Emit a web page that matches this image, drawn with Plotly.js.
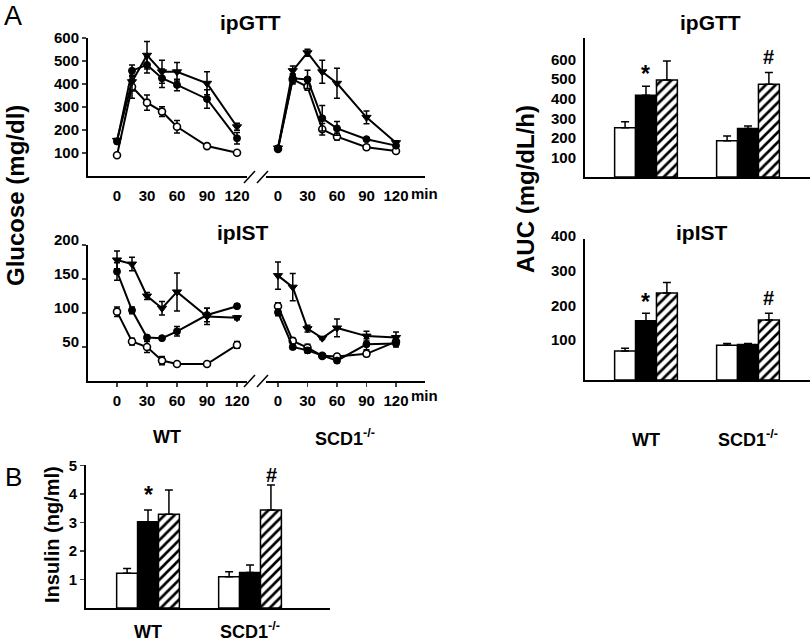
<!DOCTYPE html>
<html>
<head>
<meta charset="utf-8">
<script src="https://cdn.plot.ly/plotly-3.0.1.min.js"></script>
<style>html,body{margin:0;padding:0;background:#fff;}#chart{width:810px;height:643px;}</style>
</head>
<body>
<div id="chart"></div>
<script>
// ---------- DATA ----------
const timeMin = [0, 15, 30, 45, 60, 90, 120];
const timeTicks = [0, 30, 60, 90, 120];

// ipGTT glucose (mg/dl)
const gttWtOpen = [90, 388, 319, 280, 214, 130, 101];
const gttWtOpenErr = [5, 50, 33, 21, 27, 5, 3];
const gttWtCircle = [150, 458, 483, 425, 396, 335, 164];
const gttWtCircleErr = [8, 25, 35, 40, 25, 40, 25];
const gttWtTri = [155, 410, 525, 453, 453, 403, 214];
const gttWtTriErr = [8, 40, 60, 50, 40, 50, 15];

const gttKoOpen = [118, 420, 388, 203, 171, 125, 109];
const gttKoOpenErr = [5, 20, 15, 25, 15, 10, 6];
const gttKoCircle = [120, 425, 420, 251, 207, 160, 132];
const gttKoCircleErr = [5, 20, 40, 55, 30, 6, 6];
const gttKoTri = [122, 458, 536, 453, 403, 255, 145];
const gttKoTriErr = [5, 20, 15, 50, 65, 28, 8];

// ipIST glucose (mg/dl)
const istWtOpen = [102, 58, 50, 30, 25, 25, 53];
const istWtOpenErr = [7, 5, 8, 6, 2, 3, 5];
const istWtCircle = [161, 104, 64, 63, 73, 97, 110];
const istWtCircleErr = [13, 5, 3, 2, 7, 10, 3];
const istWtTri = [178, 172, 125, 107, 131, 95, 93];
const istWtTriErr = [13, 10, 5, 10, 28, 12, 3];

const istKoOpen = [110, 59, 49, 37, 36, 40, 58];
const istKoOpenErr = [5, 4, 5, 3, 3, 4, 5];
const istKoCircle = [101, 50, 45, 37, 30, 54, 55];
const istKoCircleErr = [5, 3, 4, 3, 3, 8, 5];
const istKoTri = [155, 138, 77, 63, 78, 66, 64];
const istKoTriErr = [20, 20, 5, 2, 13, 7, 8];

// groups
const groups = ['WT', 'SCD1<sup>-/-</sup>'];

// AUC ipGTT (mg/dL/h)
const aucGttOpen = [251, 185];   const aucGttOpenErr = [31, 24];
const aucGttBlack = [418, 248];  const aucGttBlackErr = [46, 12];
const aucGttHatch = [495, 474];  const aucGttHatchErr = [97, 60];

// AUC ipIST
const aucIstOpen = [83, 100];    const aucIstOpenErr = [8, 5];
const aucIstBlack = [170, 102];  const aucIstBlackErr = [22, 3];
const aucIstHatch = [250, 172];  const aucIstHatchErr = [30, 20];

// Insulin (ng/ml)
const insOpen = [1.22, 1.10];    const insOpenErr = [0.17, 0.17];
const insBlack = [3.03, 1.25];   const insBlackErr = [0.41, 0.26];
const insHatch = [3.29, 3.44];   const insHatchErr = [0.85, 0.88];

// ---------- HELPERS ----------
const W = 810, H = 643;
const px = x => x / W;
const py = y => 1 - y / H;
const FONT = 'Liberation Sans, Arial, sans-serif';

function lineTrace(x, y, err, kind, xa, ya) {
  let marker;
  if (kind === 'open') marker = {symbol: 'circle', size: 7, color: 'white', line: {color: 'black', width: 1.6}};
  else if (kind === 'circle') marker = {symbol: 'circle', size: 7, color: 'black', line: {color: 'black', width: 1}};
  else marker = {symbol: 'triangle-down', size: 8, color: 'black', line: {color: 'black', width: 1}};
  return {
    type: 'scatter', mode: 'lines+markers', x: x, y: y, xaxis: xa, yaxis: ya,
    line: {color: 'black', width: 2}, marker: marker,
    error_y: {type: 'data', array: err, visible: true, color: 'black', thickness: 1.5, width: 3},
    hoverinfo: 'skip', cliponaxis: false
  };
}

function barTrace(y, err, kind, xa, ya) {
  const t = {
    type: 'bar', x: groups, y: y, xaxis: xa, yaxis: ya,
    marker: {color: kind === 'black' ? 'black' : 'white', line: {color: 'black', width: 1.5}},
    error_y: {type: 'data', symmetric: false, array: err, arrayminus: err.map(() => 0),
              visible: true, color: 'black', thickness: 1.5, width: 4},
    hoverinfo: 'skip'
  };
  if (kind === 'hatch') t.marker.pattern = {shape: '/', fgcolor: 'black', bgcolor: 'white', size: 7, solidity: 0.38};
  return t;
}

const data = [
  lineTrace(timeMin, gttWtOpen, gttWtOpenErr, 'open', 'x', 'y'),
  lineTrace(timeMin, gttWtCircle, gttWtCircleErr, 'circle', 'x', 'y'),
  lineTrace(timeMin, gttWtTri, gttWtTriErr, 'tri', 'x', 'y'),
  lineTrace(timeMin, gttKoOpen, gttKoOpenErr, 'open', 'x2', 'y'),
  lineTrace(timeMin, gttKoCircle, gttKoCircleErr, 'circle', 'x2', 'y'),
  lineTrace(timeMin, gttKoTri, gttKoTriErr, 'tri', 'x2', 'y'),
  lineTrace(timeMin, istWtOpen, istWtOpenErr, 'open', 'x3', 'y2'),
  lineTrace(timeMin, istWtCircle, istWtCircleErr, 'circle', 'x3', 'y2'),
  lineTrace(timeMin, istWtTri, istWtTriErr, 'tri', 'x3', 'y2'),
  lineTrace(timeMin, istKoOpen, istKoOpenErr, 'open', 'x4', 'y2'),
  lineTrace(timeMin, istKoCircle, istKoCircleErr, 'circle', 'x4', 'y2'),
  lineTrace(timeMin, istKoTri, istKoTriErr, 'tri', 'x4', 'y2'),
  barTrace(aucGttOpen, aucGttOpenErr, 'open', 'x5', 'y3'),
  barTrace(aucGttBlack, aucGttBlackErr, 'black', 'x5', 'y3'),
  barTrace(aucGttHatch, aucGttHatchErr, 'hatch', 'x5', 'y3'),
  barTrace(aucIstOpen, aucIstOpenErr, 'open', 'x6', 'y4'),
  barTrace(aucIstBlack, aucIstBlackErr, 'black', 'x6', 'y4'),
  barTrace(aucIstHatch, aucIstHatchErr, 'hatch', 'x6', 'y4'),
  barTrace(insOpen, insOpenErr, 'open', 'x7', 'y5'),
  barTrace(insBlack, insBlackErr, 'black', 'x7', 'y5'),
  barTrace(insHatch, insHatchErr, 'hatch', 'x7', 'y5')
];

const tickF = {family: FONT, size: 15, color: 'black', weight: 'bold'};
const base = {showline: true, linecolor: 'black', linewidth: 2, showgrid: false, zeroline: false,
              tickfont: tickF, fixedrange: true};

const layout = {
  width: W, height: H,
  margin: {l: 0, r: 0, t: 0, b: 0},
  paper_bgcolor: 'white', plot_bgcolor: 'white',
  showlegend: false, barmode: 'group', bargap: 0.385, bargroupgap: 0,
  font: {family: FONT, color: 'black'},
  xaxis:  Object.assign({}, base, {domain: [px(88), px(247)], range: [-29, 130], anchor: 'y',
            tickvals: timeTicks, ticks: '', ticklabelstandoff: 5}),
  xaxis2: Object.assign({}, base, {domain: [px(266), px(425)], range: [-12.2, 149.5], anchor: 'y',
            tickvals: timeTicks, ticks: '', ticklabelstandoff: 5}),
  yaxis:  Object.assign({}, base, {domain: [py(176), py(38)], range: [0, 600], anchor: 'x',
            tickvals: [100, 200, 300, 400, 500, 600], ticks: 'outside', ticklen: 4, tickwidth: 1.5}),
  xaxis3: Object.assign({}, base, {domain: [px(88), px(247)], range: [-29, 130], anchor: 'y2',
            tickvals: timeTicks, ticks: 'outside', ticklen: 4, tickwidth: 1.5, ticklabelstandoff: 1}),
  xaxis4: Object.assign({}, base, {domain: [px(266), px(425)], range: [-12.2, 149.5], anchor: 'y2',
            tickvals: timeTicks, ticks: 'outside', ticklen: 4, tickwidth: 1.5, ticklabelstandoff: 1}),
  yaxis2: Object.assign({}, base, {domain: [py(381), py(245)], range: [0, 200], anchor: 'x3',
            tickvals: [50, 100, 150, 200], ticks: 'outside', ticklen: 4, tickwidth: 1.5, ticklabelshift: -5}),
  xaxis5: Object.assign({}, base, {domain: [px(585), 1], range: [-0.598, 1.608], anchor: 'y3',
            type: 'category', showticklabels: false, ticks: ''}),
  yaxis3: Object.assign({}, base, {domain: [py(177), py(38)], range: [0, 710], anchor: 'x5',
            tickvals: [100, 200, 300, 400, 500, 600], ticks: '', ticklabelstandoff: 4}),
  xaxis6: Object.assign({}, base, {domain: [px(585), 1], range: [-0.598, 1.608], anchor: 'y4',
            type: 'category', ticks: '', tickfont: {family: FONT, size: 18, color: 'black', weight: 'bold'},
            ticklabelstandoff: 42}),
  yaxis4: Object.assign({}, base, {domain: [py(380), py(239)], range: [0, 405], anchor: 'x6',
            tickvals: [100, 200, 300, 400], ticks: '', ticklabelshift: -5, ticklabelstandoff: 4}),
  xaxis7: Object.assign({}, base, {domain: [px(86), px(330)], range: [-0.608, 1.784], anchor: 'y5',
            type: 'category', ticks: '', tickfont: {family: FONT, size: 18, color: 'black', weight: 'bold'},
            ticklabelstandoff: 6}),
  yaxis5: Object.assign({}, base, {domain: [py(608), py(465)], range: [0, 5.02], anchor: 'x7',
            tickvals: [1, 2, 3, 4, 5], ticks: 'outside', ticklen: 4, tickwidth: 1.5}),
  shapes: [],
  annotations: []
};

// axis break marks
[183, 387].forEach(yb => {
  [[244, 255], [257, 268]].forEach(([a, b]) => {
    layout.shapes.push({type: 'line', xref: 'paper', yref: 'paper',
      x0: px(a), y0: py(yb), x1: px(b), y1: py(yb - 12), line: {color: 'black', width: 1.5}});
  });
});

function ann(text, x, y, size, bold, extra) {
  return Object.assign({text: text, xref: 'paper', yref: 'paper', x: px(x), y: py(y),
    xanchor: 'center', yanchor: 'middle', showarrow: false,
    font: {family: FONT, size: size, color: 'black', weight: bold ? 'bold' : 'normal'}}, extra || {});
}

layout.annotations.push(
  ann('A', 13, 16, 27, false),
  ann('B', 13, 477, 26, false),
  ann('ipGTT', 250, 22, 21, true),
  ann('ipIST', 243, 232, 21, true),
  ann('ipGTT', 710, 22, 21, true),
  ann('ipIST', 702, 233, 21, true),
  ann('Glucose (mg/dl)', 15, 196, 24, true, {textangle: -90}),
  ann('AUC (mg/dL/h)', 525, 189, 24, true, {textangle: -90}),
  ann('Insulin (ng/ml)', 52, 535, 20, true, {textangle: -90}),
  ann('min', 424, 193, 15, true),
  ann('min', 424, 395, 15, true),
  ann('WT', 167, 437, 18, true),
  ann('SCD1<sup>-/-</sup>', 345, 437, 18, true)
);

// significance marks
function sig(text, xa, ya, x, y, size) {
  return {text: text, xref: xa, yref: ya, x: x, y: y, showarrow: false, xanchor: 'center', yanchor: 'middle',
    font: {family: FONT, size: size, color: 'black', weight: 'bold'}};
}
layout.annotations.push(
  sig('*', 'x5', 'y3', 0, 525, 23),
  sig('#', 'x5', 'y3', 1.203, 612, 20),
  sig('*', 'x6', 'y4', 0, 225, 23),
  sig('#', 'x6', 'y4', 1.203, 236, 20),
  sig('*', 'x7', 'y5', 0, 3.95, 23),
  sig('#', 'x7', 'y5', 1.206, 4.67, 20)
);

Plotly.newPlot('chart', data, layout, {staticPlot: true, displayModeBar: false});
</script>
</body>
</html>
